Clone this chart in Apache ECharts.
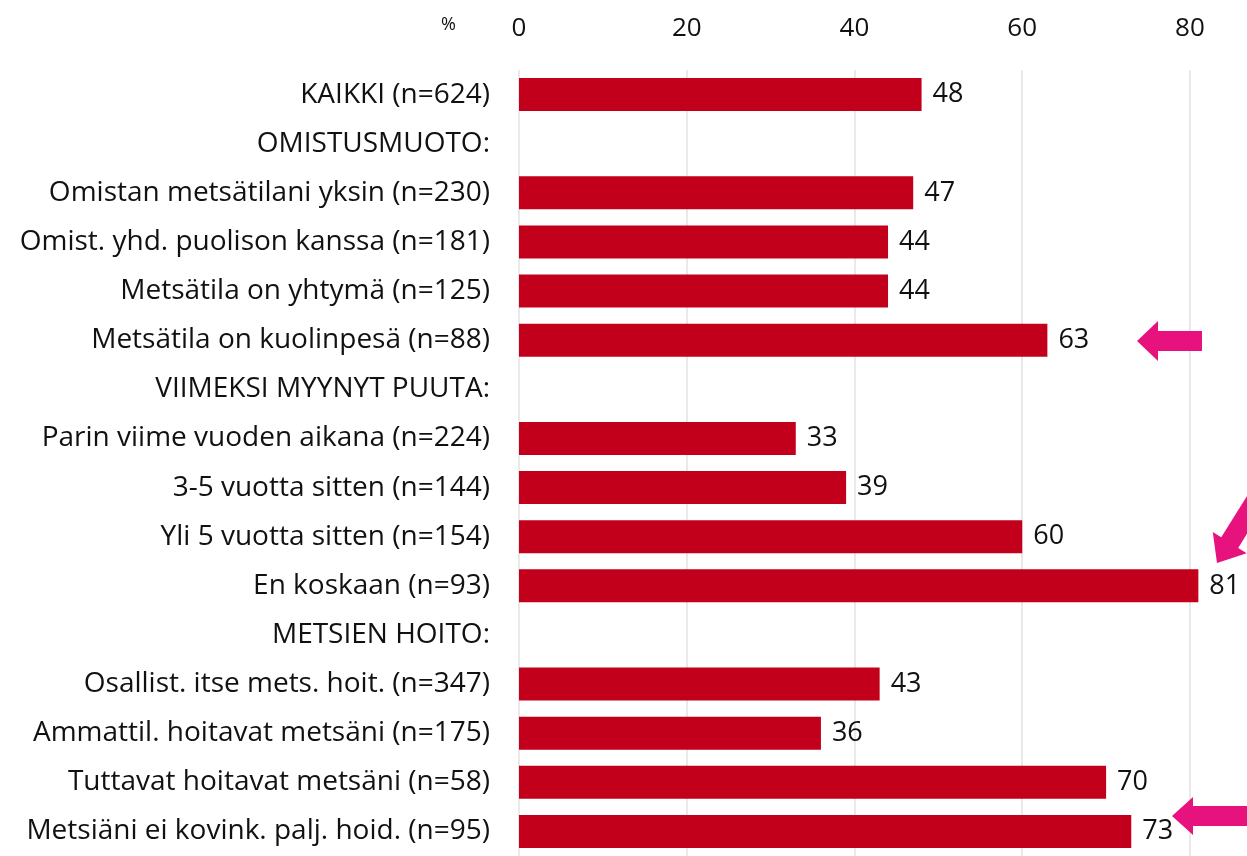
<!DOCTYPE html>
<html>
<head>
<meta charset="utf-8">
<script src="https://cdn.jsdelivr.net/npm/echarts@6/dist/echarts.min.js"></script>
<style>
  html, body { margin: 0; padding: 0; background: #fff; }
  #main { width: 1247px; height: 856px; }
</style>
</head>
<body>
<div id="main"></div>
<script>
var categories = [
  'KAIKKI (n=624)',
  'OMISTUSMUOTO:',
  'Omistan metsätilani yksin (n=230)',
  'Omist. yhd. puolison kanssa (n=181)',
  'Metsätila on yhtymä (n=125)',
  'Metsätila on kuolinpesä (n=88)',
  'VIIMEKSI MYYNYT PUUTA:',
  'Parin viime vuoden aikana (n=224)',
  '3-5 vuotta sitten (n=144)',
  'Yli 5 vuotta sitten (n=154)',
  'En koskaan (n=93)',
  'METSIEN HOITO:',
  'Osallist. itse mets. hoit. (n=347)',
  'Ammattil. hoitavat metsäni (n=175)',
  'Tuttavat hoitavat metsäni (n=58)',
  'Metsiäni ei kovink. palj. hoid. (n=95)'
];
var values = [48, null, 47, 44, 44, 63, null, 33, 39, 60, 81, null, 43, 36, 70, 73];
var xTicks = [0, 20, 40, 60, 80];

var chart = echarts.init(document.getElementById('main'));
var font = '"Open Sans", "Noto Sans", sans-serif';
var pink = '#E8127E';

// arrow shapes (annotations)
function leftArrow(tipX, y, headLen, headH, shaftH, tailX) {
  return [
    [tipX, y], [tipX + headLen, y - headH / 2], [tipX + headLen, y - shaftH / 2],
    [tailX, y - shaftH / 2], [tailX, y + shaftH / 2], [tipX + headLen, y + shaftH / 2],
    [tipX + headLen, y + headH / 2]
  ];
}
function rotArrow(tipX, tipY, angleDeg, headLen, headH, shaftH, len) {
  var a = angleDeg * Math.PI / 180;
  var base = leftArrow(0, 0, headLen, headH, shaftH, len);
  return base.map(function (p) {
    return [tipX + p[0] * Math.cos(a) - p[1] * Math.sin(a),
            tipY + p[0] * Math.sin(a) + p[1] * Math.cos(a)];
  });
}

var option = {
  animation: false,
  grid: { left: 519, right: 0, top: 70, bottom: -9, containLabel: false },
  xAxis: {
    type: 'value',
    position: 'top',
    min: 0,
    max: 86.8,
    interval: 20,
    axisLine: { show: false },
    axisTick: { show: false },
    axisLabel: {
      margin: 28,
      fontSize: 26,
      fontFamily: font,
      color: '#111',
      showMaxLabel: false,
      formatter: function (v) { return xTicks.indexOf(v) >= 0 ? String(v) : ''; }
    },
    splitLine: { show: true, showMaxLine: false, lineStyle: { color: '#e2e2e2', width: 1.5 } }
  },
  yAxis: {
    type: 'category',
    inverse: true,
    data: categories,
    axisLine: { show: false },
    axisTick: { show: false },
    axisLabel: { margin: 29, fontSize: 28, fontFamily: font, color: '#111' }
  },
  graphic: [
    { type: 'text', left: 441, top: 16, style: { text: '%', font: '18px ' + font, fill: '#111' } },
    { type: 'polygon', z: 100, shape: { points: leftArrow(1137, 341, 21, 40, 20, 1202) }, style: { fill: pink } },
    { type: 'polygon', z: 100, shape: { points: leftArrow(1172, 816, 21, 38, 20, 1260) }, style: { fill: pink } },
    { type: 'polygon', z: 100, shape: { points: rotArrow(1217, 563, -58, 24, 40, 20, 90) }, style: { fill: pink } }
  ],
  series: [{
    type: 'bar',
    data: values,
    barWidth: 33,
    itemStyle: { color: '#C3001B' },
    label: {
      show: true,
      position: 'right',
      distance: 11,
      fontSize: 27,
      fontFamily: font,
      color: '#111'
    }
  }]
};
chart.setOption(option);
</script>
</body>
</html>
